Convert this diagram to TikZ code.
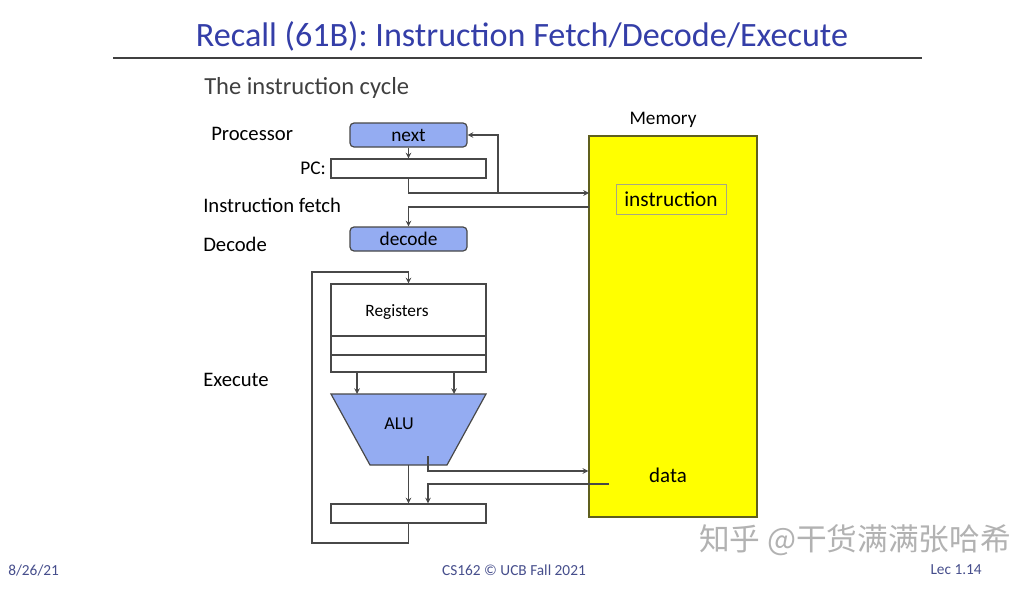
\documentclass[tikz,border=0pt]{standalone}
\usepackage{fontspec}
\usepackage{xcolor}
\usepackage{tikz}
\usetikzlibrary{shapes.geometric, arrows, positioning, calc}
\setmainfont{Carlito}
\newfontfamily\cjkfont{Noto Sans CJK SC}
\definecolor{titleblue}{RGB}{52, 62, 168}
\definecolor{boxblue}{RGB}{148, 172, 242}
\definecolor{wiregray}{RGB}{72, 72, 72}
\definecolor{memyellow}{RGB}{255, 255, 0}
\definecolor{memedge}{RGB}{95, 95, 30}
\definecolor{footblue}{RGB}{70, 78, 140}

\tikzset{
    wire/.style={draw=wiregray, line width=0.9pt},
    bluebox/.style={fill=boxblue, draw=wiregray, line width=0.9pt, rounded corners=3pt,
          minimum width=87.75pt, minimum height=18pt, inner sep=0pt, font=\fontsize{14.5}{16}\selectfont},
    regbox/.style={fill=white, draw=wiregray, line width=0.9pt, minimum width=116.25pt,
          inner sep=0pt},
    lbl/.style={inner sep=0pt, font=\fontsize{15.5}{18}\selectfont},
    foot/.style={inner sep=0pt, text=footblue, font=\fontsize{11.5}{13}\selectfont}
}

\begin{document}
\begin{tikzpicture}[x=0.75pt, y=-0.75pt, >=stealth]
    \useasboundingbox (0,0) rectangle (1023,610);
    \fill[white] (0,0) rectangle (1023,610);

    % heading
    \node[inner sep=0pt, text=titleblue, font=\fontsize{25.6}{30}\selectfont] (title) at (522,36)
        {Recall (61B): Instruction Fetch/Decode/Execute};
    \draw[black!75, line width=2pt] (113,58) -- (922,58);
    \node[inner sep=0pt, anchor=west, text=black!75, font=\fontsize{18.4}{22}\selectfont] (sub) at (204,88)
        {The instruction cycle};

    % left-hand labels
    \node[lbl, anchor=west] (proc) at (211,134) {Processor};
    \node[lbl, anchor=east, font=\fontsize{14.5}{16}\selectfont] (pclbl) at (326,168) {PC:};
    \node[lbl, anchor=west] (fetch) at (203,205) {Instruction fetch};
    \node[lbl, anchor=west] (dec) at (203,244) {Decode};
    \node[lbl, anchor=west] (exe) at (203,380) {Execute};

    % processor boxes
    \node[bluebox] (next) at (408.5,135) {next};
    \node[regbox, minimum height=14.25pt] (pc) at (408.5,168.5) {};
    \node[bluebox] (decode) at (408.5,239) {decode};
    \node[regbox, minimum height=66pt] (regs) at (408.5,328) {};
    \node[inner sep=0pt, font=\fontsize{13}{15}\selectfont] (reglbl) at (397,312) {Registers};
    \draw[wire] (regs.west |- 0,336) -- (regs.east |- 0,336);
    \draw[wire] (regs.west |- 0,355) -- (regs.east |- 0,355);
    % ALU
    \coordinate (alutl) at (331,394);
    \coordinate (alutr) at (486,394);
    \coordinate (alubr) at (447,465);
    \coordinate (alubl) at (370,465);
    \filldraw[fill=boxblue, draw=wiregray, line width=0.9pt] (alutl) -- (alutr) -- (alubr) -- (alubl) -- cycle;
    \node[inner sep=0pt, font=\fontsize{13.6}{15}\selectfont] (alu) at (399,424) {ALU};
    \node[regbox, minimum height=14.25pt] (out) at (408.5,513.5) {};

    % memory
    \node[fill=memyellow, draw=memedge, line width=1pt, minimum width=126pt, minimum height=285.75pt,
          inner sep=0pt] (mem) at (673,326.5) {};
    \node[lbl, font=\fontsize{14.4}{16}\selectfont] (memlbl) at (663,120) {Memory};
    \node[draw=memedge!55, line width=0.5pt, minimum width=82.5pt, minimum height=22.5pt,
          inner sep=0pt, font=\fontsize{16}{18}\selectfont] (instr) at (671,199) {instruction};
    \node[inner sep=0pt, font=\fontsize{15.7}{18}\selectfont] (data) at (668,475) {data};

    % wiring
    \coordinate (addr) at (589,193);
    \coordinate (split) at (498,193);
    \coordinate (ifetch) at (589,207);
    \coordinate (lpb) at (312,543);
    \coordinate (lpt) at (312,272);
    \coordinate (aluo) at (428,456);
    \coordinate (alubot) at (408.5,465);
    \coordinate (dout) at (609,484);
    \draw[wire, ->] (next.south) -- (pc.north);
    \draw[wire, ->] (pc.south) |- (addr);
    \draw[wire, ->] (split) |- (next.east);
    \draw[wire, ->] (ifetch) -| (decode.north);
    \draw[wire, ->] (357,0 |- regs.south) -- (357,0 |- alutl);
    \draw[wire, ->] (454,0 |- regs.south) -- (454,0 |- alutl);
    \draw[wire, ->] (alubot) -- (out.north);
    \draw[wire, ->] (aluo) |- (mem.west |- 0,471);
    \draw[wire, ->] (dout) -| (428,0 |- out.north);
    \draw[wire, ->] (out.south) |- (lpb) -- (lpt) -| (regs.north);

    % footer
    \node[foot, anchor=west] (date) at (8,570) {8/26/21};
    \node[foot] (course) at (514,570) {CS162 © UCB Fall 2021};
    \node[foot, anchor=east] (lec) at (982,570) {Lec 1.14};
    \node[inner sep=0pt, text=black!30, font=\cjkfont\fontsize{23}{27}\selectfont] (mark) at (855,540) {知乎 @干货满满张哈希};
\end{tikzpicture}
\end{document}
